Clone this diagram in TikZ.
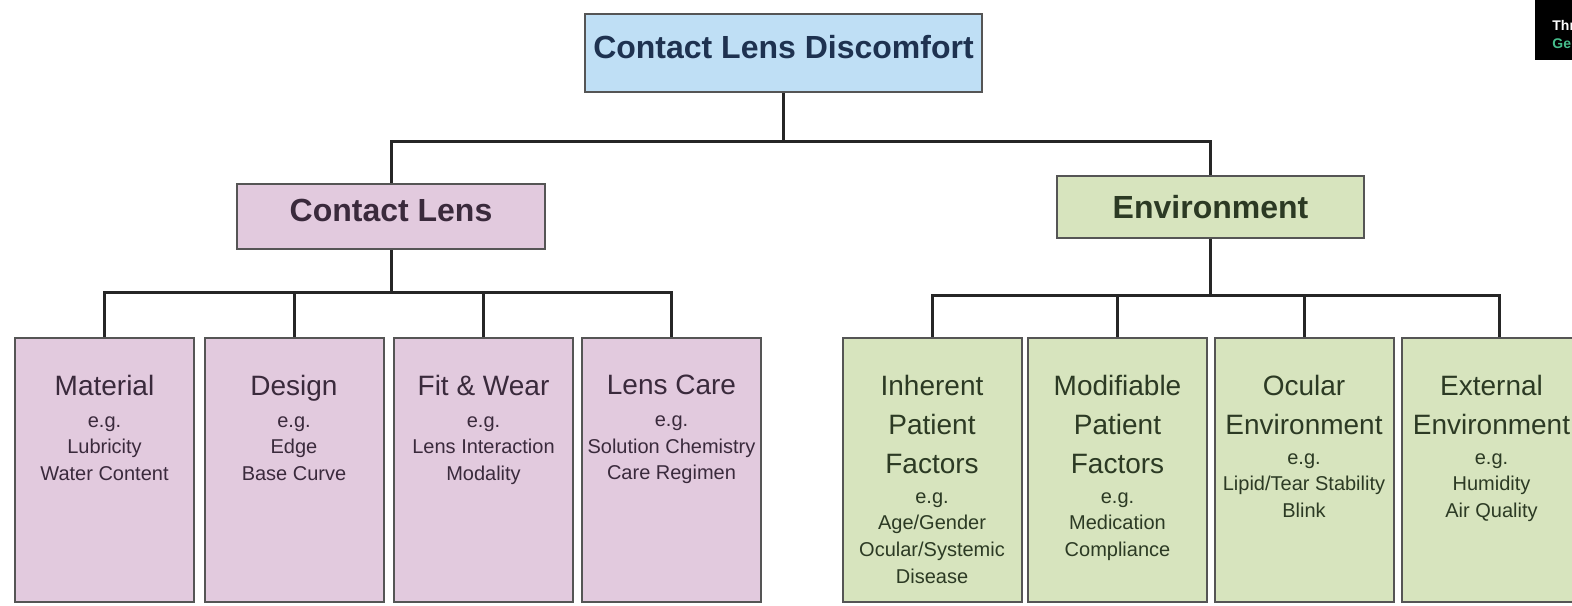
\documentclass[tikz,border=0pt]{standalone}
\usepackage{fontspec}
\setmainfont{Liberation Sans}
\usetikzlibrary{positioning}
\definecolor{discBlue}{RGB}{191,223,245}
\definecolor{lensPink}{RGB}{226,202,222}
\definecolor{envGreen}{RGB}{215,228,190}
\definecolor{boxLine}{RGB}{85,85,85}
\definecolor{branchDark}{RGB}{38,38,38}
\definecolor{titleNavy}{RGB}{30,50,80}
\definecolor{lensText}{RGB}{58,42,60}
\definecolor{envText}{RGB}{44,58,36}
\definecolor{badgeGreen}{RGB}{70,190,140}
\newcommand{\factorhead}[1]{{\fontsize{14}{17}\selectfont #1}}

\begin{document}
\begin{tikzpicture}[x=0.5pt, y=-0.5pt]
            % Styles
            \tikzstyle{headbox} = [rectangle, draw=boxLine, line width=1pt, inner sep=0pt, font=\fontsize{16}{19}\selectfont\bfseries]
            \tikzstyle{leaf} = [rectangle, draw=boxLine, line width=1pt, minimum width=89.5pt, minimum height=132pt, inner sep=0pt]
            \tikzstyle{leaftext} = [align=center, inner sep=0pt, font=\fontsize{10}{13.3}\selectfont]
            \tikzstyle{branch} = [line width=1.5pt, branchDark]

            \useasboundingbox (0,0) rectangle (1572,605);
            \clip (0,0) rectangle (1572,605);

            % Nodes
            \node[headbox, fill=discBlue, text=titleNavy, minimum width=198.5pt, minimum height=39pt, text depth=6pt] (discomfort) at (783.5,53) {Contact Lens Discomfort};
            \node[headbox, fill=lensPink, text=lensText, minimum width=154pt, minimum height=32.5pt, text depth=6pt] (lens) at (391,216.5) {Contact Lens};
            \node[headbox, fill=envGreen, text=envText, minimum width=153.5pt, minimum height=31pt] (environment) at (1210.5,207) {Environment};

            \node[leaf, fill=lensPink] (material) at (104.5,470) {};
            \node[leaf, fill=lensPink] (design) at (294,470) {};
            \node[leaf, fill=lensPink] (fitwear) at (483.5,470) {};
            \node[leaf, fill=lensPink] (lenscare) at (671.5,470) {};
            \node[leaf, fill=envGreen] (inherent) at (932,470) {};
            \node[leaf, fill=envGreen] (modifiable) at (1117.5,470) {};
            \node[leaf, fill=envGreen] (ocular) at (1304,470) {};
            \node[leaf, fill=envGreen, minimum width=97pt] (external) at (1499,470) {};

            % Labels
            \node[leaftext, text=lensText, below=19pt] at (material.north) {\factorhead{Material}\\[2.5pt] e.g.\\ Lubricity\\ Water Content};
            \node[leaftext, text=lensText, below=19pt] at (design.north) {\factorhead{Design}\\[2.5pt] e.g.\\ Edge\\ Base Curve};
            \node[leaftext, text=lensText, below=19pt] at (fitwear.north) {\factorhead{Fit \& Wear}\\[2.5pt] e.g.\\ Lens Interaction\\ Modality};
            \node[leaftext, text=lensText, below=19pt] at (lenscare.north) {\factorhead{Lens Care}\\[2.5pt] e.g.\\ Solution Chemistry\\ Care Regimen};
            \node[leaftext, text=envText, below=19pt] at (inherent.north) {\factorhead{Inherent}\\[6.2pt] \factorhead{Patient}\\[6.2pt] \factorhead{Factors}\\[1.5pt] e.g.\\ Age/Gender\\ Ocular/Systemic\\ Disease};
            \node[leaftext, text=envText, below=19pt] at (modifiable.north) {\factorhead{Modifiable}\\[6.2pt] \factorhead{Patient}\\[6.2pt] \factorhead{Factors}\\[1.5pt] e.g.\\ Medication\\ Compliance};
            \node[leaftext, text=envText, below=19pt] at (ocular.north) {\factorhead{Ocular}\\[6.2pt] \factorhead{Environment}\\[1.5pt] e.g.\\ Lipid/Tear Stability\\ Blink};
            \node[leaftext, text=envText, below=19pt] at ([xshift=-3.75pt]external.north) {\factorhead{External}\\[6.2pt] \factorhead{Environment}\\[1.5pt] e.g.\\ Humidity\\ Air Quality};

            % Corner badge
            \node[fill=black, minimum width=22.5pt, minimum height=30pt, inner sep=0pt, anchor=north west] (badge) at (1535,0) {};
            \node[font=\fontsize{7}{8}\selectfont\bfseries, text=white, anchor=base west, inner sep=0pt] (badgetop) at (1552,30) {Thr};
            \node[font=\fontsize{7}{8}\selectfont\bfseries, text=badgeGreen, anchor=base west, inner sep=0pt] (badgebottom) at (1552,48) {Ge};

            % Lines
            \draw[branch] (discomfort.south) -- ++(0,48) coordinate (rootbar);
            \draw[branch] (rootbar) -| (lens.north);
            \draw[branch] (rootbar) -| (environment.north);
            \draw[branch] (lens.south) -- ++(0,42) coordinate (lensbar);
            \foreach \leafname in {material, design, fitwear, lenscare}
                \draw[branch] (lensbar) -| (\leafname.north);
            \draw[branch] (environment.south) -- ++(0,56) coordinate (envbar);
            \foreach \leafname in {inherent, modifiable, ocular, external}
                \draw[branch] (envbar) -| (\leafname.north);
        \end{tikzpicture}
\end{document}
